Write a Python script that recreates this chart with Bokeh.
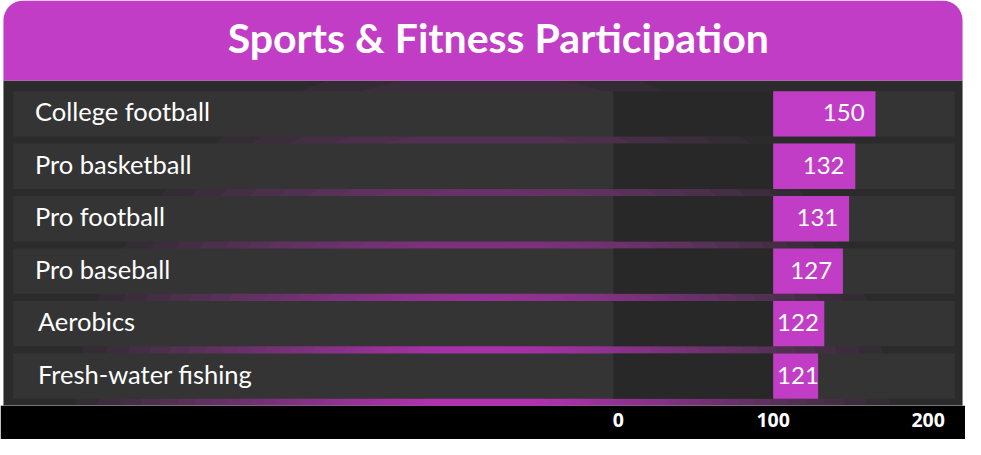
from bokeh.plotting import figure
from bokeh.models import Range1d, LinearAxis, FixedTicker, ColumnDataSource
from bokeh.core.properties import value
from bokeh.embed import file_html
from bokeh.resources import INLINE

# ---------------- data ----------------
categories = ["College football", "Pro basketball", "Pro football",
              "Pro baseball", "Aerobics", "Fresh-water fishing"]
values = [150, 132, 131, 127, 122, 121]          # printed values
bar_base = 100                                   # bars start at 100 on the axis
bar_ends = [166, 153, 149, 145, 133, 129]        # bar ends
ticks = [0, 100, 200]
title_text = "Sports & Fitness Participation"

# ---------------- geometry helpers ----------------
W, H = 965, 439
SX, SY = W / 981, H / 455
PX_PER_UNIT = 1.575        # reference px per axis unit
X0_REF = 628               # reference px of axis value 0
ROW0_REF, ROW_PITCH = 117.5, 54.4
FRAME_BOTTOM_REF = 420


def vx(r):
    return (r - X0_REF) / PX_PER_UNIT


def vy(r):
    return (r - ROW0_REF) / ROW_PITCH


PURPLE = "#c13dc5"
FONT = "Lato"

p = figure(width=W, height=H, output_backend="svg", toolbar_location=None,
           x_range=Range1d(vx(0), vx(981)),
           y_range=Range1d(vy(FRAME_BOTTOM_REF), vy(0)),
           x_axis_location=None, y_axis_location=None,
           min_border_left=0, min_border_right=0, min_border_top=0,
           min_border_bottom=int(round((455 - FRAME_BOTTOM_REF) * SY)))
p.background_fill_color = "white"
p.border_fill_color = "black"
p.outline_line_color = None
p.grid.visible = False

# dark panel
p.quad(left=vx(3), right=vx(978), top=vy(83), bottom=vy(430),
       fill_color="#2b2b2b", line_color=None)

# purple glow behind the rows (concentric translucent ellipses)
N = 60
a = 1 - 0.02 ** (1 / N)
for j in range(1, N + 1):
    r = 1 - (1 - (1 - a) ** j) / 1.1
    if r <= 0:
        continue
    p.ellipse(x=vx(490), y=vy(440), width=2 * 440 * SX * r, height=2 * 410 * SY * r,
              width_units="screen", height_units="screen",
              fill_color=PURPLE, fill_alpha=a, line_color=None)

idx = list(range(len(categories)))
row_h = 47 / ROW_PITCH
src = ColumnDataSource(dict(y=idx, cat=categories, val=[str(v) for v in values],
                            end=bar_ends))

# row backgrounds
p.hbar(y="y", left=vx(13), right=vx(970), height=row_h, source=src,
       fill_color="#343434", line_color=None)
# dark track up to the bar base
p.hbar(y="y", left=vx(623), right=bar_base, height=row_h, source=src,
       fill_color="#282828", line_color=None)
# bars
p.hbar(y="y", left=bar_base, right="end", height=row_h, source=src,
       fill_color=PURPLE, line_color=None)

# category labels
label_indent = [22, 22, 22, 22, 25, 25]
for i, c in enumerate(categories):
    p.text(x=[vx(13)], y=[i], text=[c], x_offset=label_indent[i] * SX, y_offset=-2.5 * SY,
           text_font=value(FONT), text_font_size="25.5px", text_color="white",
           text_align="left", text_baseline="middle")

# value labels
for i, (v, e) in enumerate(zip(values, bar_ends)):
    if (e - bar_base) * PX_PER_UNIT < 55:
        p.text(x=[bar_base], y=[i], text=[str(v)], x_offset=4 * SX, y_offset=-1 * SY,
               text_font=value(FONT), text_font_size="24px", text_color="white",
               text_align="left", text_baseline="middle")
    else:
        p.text(x=[e], y=[i], text=[str(v)], x_offset=-11 * SX, y_offset=-1 * SY,
               text_font=value(FONT), text_font_size="24px", text_color="white",
               text_align="right", text_baseline="middle")

# header
p.quad(left=vx(3), right=vx(978), top=vy(0), bottom=vy(83),
       fill_color=PURPLE, line_color=None, border_radius=(20, 20, 0, 0))
p.text(x=[vx(506)], y=[vy(38.5)], text=[title_text],
       text_font=value(FONT), text_font_style="bold", text_font_size="41px",
       text_color="white", text_align="center", text_baseline="middle")

# value axis
ax = LinearAxis(ticker=FixedTicker(ticks=ticks))
ax.axis_line_color = None
ax.major_tick_line_color = None
ax.minor_tick_line_color = None
ax.major_tick_in = 0
ax.major_tick_out = 0
ax.major_label_standoff = 7
ax.major_label_text_color = "white"
ax.major_label_text_font = "Open Sans"
ax.major_label_text_font_style = "bold"
ax.major_label_text_font_size = "19.5px"
p.add_layout(ax, "below")

open("out.html", "w").write(file_html(p, INLINE))
